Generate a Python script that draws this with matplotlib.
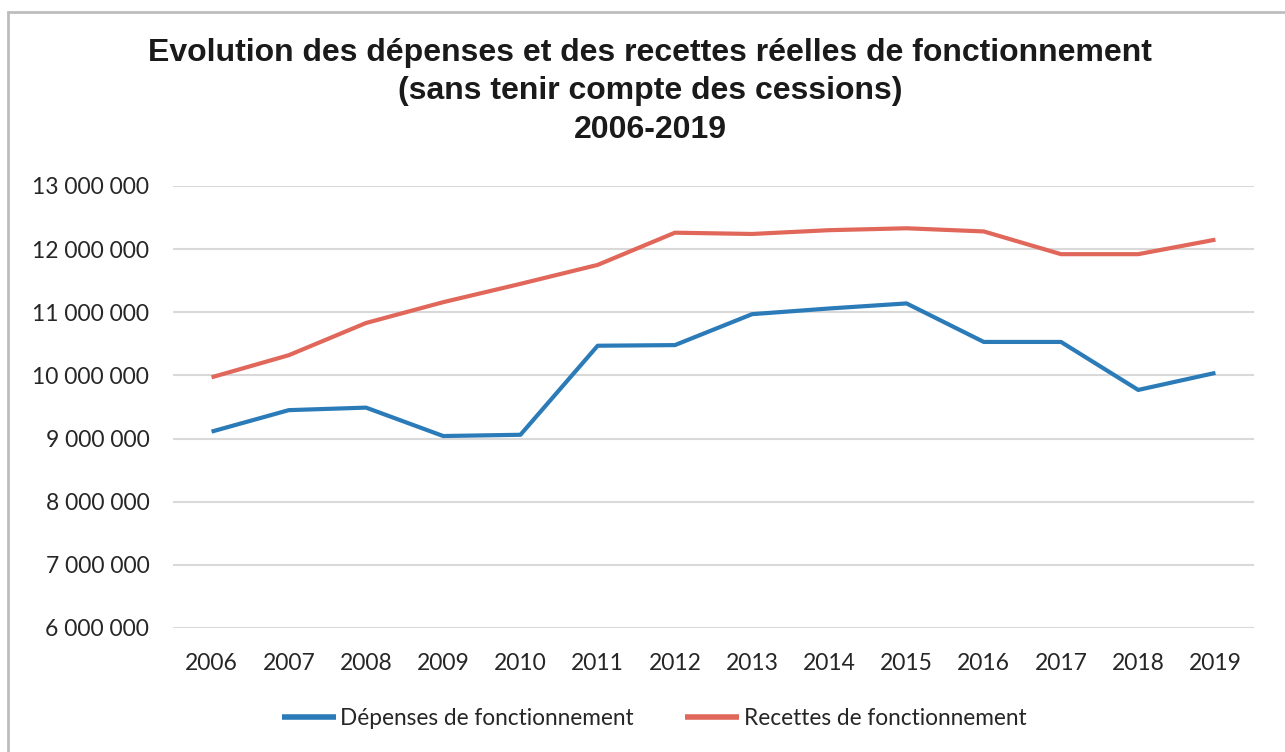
from matplotlib import pyplot as plt
from matplotlib.ticker import FuncFormatter
from matplotlib.patches import Rectangle
import numpy as np

years = ['2006', '2007', '2008', '2009', '2010', '2011', '2012',
         '2013', '2014', '2015', '2016', '2017', '2018', '2019']
depenses = [9110000, 9450000, 9490000, 9040000, 9060000, 10470000, 10480000,
            10970000, 11060000, 11140000, 10530000, 10530000, 9770000, 10040000]
recettes = [9970000, 10320000, 10830000, 11160000, 11450000, 11750000, 12260000,
            12240000, 12300000, 12330000, 12280000, 11920000, 11920000, 12150000]
yticks = [6000000, 7000000, 8000000, 9000000, 10000000, 11000000, 12000000, 13000000]

fig = plt.figure(figsize=(12.85, 7.52), dpi=100)
ax = fig.add_axes([0.1346, 0.1649, 0.8413, 0.5878])

# chart frame (cut off at right and bottom, like the scan)
fig.patches.append(Rectangle((8 / 1285, -0.05), 1.1, 1 - 12 / 752 + 0.05,
                             transform=fig.transFigure, fill=False,
                             edgecolor='#bdbdbd', linewidth=2))

x = np.arange(len(years))
ax.plot(x, depenses, color='#2b7bb9', linewidth=3, solid_capstyle='butt',
        label='Dépenses de fonctionnement')
ax.plot(x, recettes, color='#e0675a', linewidth=3, solid_capstyle='butt',
        label='Recettes de fonctionnement')

ax.set_xlim(-0.5, len(years) - 0.5)
ax.set_ylim(6000000, 13000000)
ax.set_xticks(x)
ax.set_xticklabels(years)
ax.set_yticks(yticks)
ax.yaxis.set_major_formatter(FuncFormatter(lambda v, p: '{:,}'.format(int(v)).replace(',', ' ')))
ax.grid(axis='y', color='#d9d9d9', linewidth=1.5)
ax.set_axisbelow(True)
for s in ax.spines.values():
    s.set_visible(False)
ax.tick_params(length=0, labelsize=16.5, labelcolor='#262626')
ax.tick_params(axis='y', pad=17)
ax.tick_params(axis='x', pad=18)
for lab in ax.get_xticklabels() + ax.get_yticklabels():
    lab.set_family('Lato')

fig.text(0.506, 0.95, 'Evolution des dépenses et des recettes réelles de fonctionnement\n'
         '(sans tenir compte des cessions)\n2006-2019',
         ha='center', va='top', fontsize=23, fontweight='bold',
         family='Liberation Sans', linespacing=1.38, color='#1a1a1a')

fig.legend(loc='center', bbox_to_anchor=(0.509, 0.045), ncol=2, frameon=False,
           prop={'family': 'Lato', 'size': 16.3}, handlelength=2.4,
           handletextpad=0.2, columnspacing=2.25)
for t in fig.legends[0].get_texts():
    t.set_color('#262626')
for h in fig.legends[0].get_lines():
    h.set_linewidth(4)

plt.savefig('out.png', dpi=100)
